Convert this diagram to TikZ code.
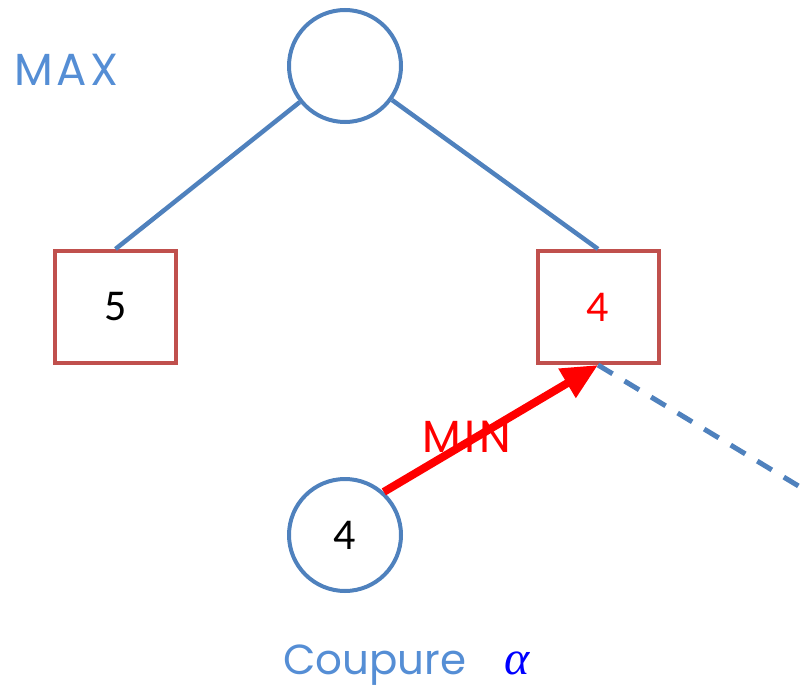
\documentclass[tikz,border=0pt]{standalone}
\usepackage{fontspec}
\setmainfont{Carlito}
\newfontfamily\geofont{Poppins}
\newfontfamily\widegeofont{Poppins}[LetterSpace=8]
\newfontfamily\greekfont{Liberation Serif}
\usetikzlibrary{arrows.meta}
\definecolor{edgeblue}{RGB}{79,129,189}
\definecolor{labelblue}{RGB}{85,142,213}
\definecolor{boxred}{RGB}{192,80,77}
\definecolor{alphablue}{RGB}{0,0,255}
\begin{document}
\begin{tikzpicture}[x=1pt,y=-1pt,
  maxnode/.style={circle,draw=edgeblue,line width=4pt,minimum size=112pt,inner sep=0pt,
    font=\fontsize{44}{48}\selectfont},
  minbox/.style={rectangle,draw=boxred,line width=4pt,minimum width=121pt,minimum height=112pt,
    inner sep=0pt,font=\fontsize{44}{48}\selectfont},
  treeedge/.style={draw=edgeblue,line width=4.5pt},
  cutedge/.style={draw=edgeblue,line width=5pt,dash pattern=on 17pt off 14pt},
  backedge/.style={draw=red,line width=8pt,-{Triangle[length=36pt,width=32pt]}},
  levellabel/.style={anchor=base west,inner sep=0pt,font=\widegeofont\fontsize{45}{50}\selectfont}
]
\useasboundingbox (0,0) rectangle (805,690);
\clip (0,0) rectangle (805,690);

% tree nodes
\node[maxnode] (root) at (345,66) {};
\node[minbox] (left) at (115.5,307) {5};
\node[minbox,text=red] (right) at (598,307) {4};
\node[maxnode] (leaf) at (345,535) {4};
\coordinate (cutend) at (830,505);

% connectors
\draw[treeedge] (root) -- (left.north);
\draw[treeedge] (root) -- (right.north);
\draw[cutedge] (right.south) -- (cutend);
\draw[backedge] (leaf.48) -- (right.south);

% labels
\node[levellabel,text=labelblue] (maxlbl) at (14,86) {MAX};
\node[levellabel,text=red] (minlbl) at (422,452) {MIN};
\node[levellabel,text=labelblue,font=\geofont\fontsize{42}{46}\selectfont] (cutlbl) at (283,674)
  {Coupure\hspace{0.9em}\textcolor{alphablue}{\greekfont\itshape\fontsize{48}{50}\selectfont α}};
\end{tikzpicture}
\end{document}
